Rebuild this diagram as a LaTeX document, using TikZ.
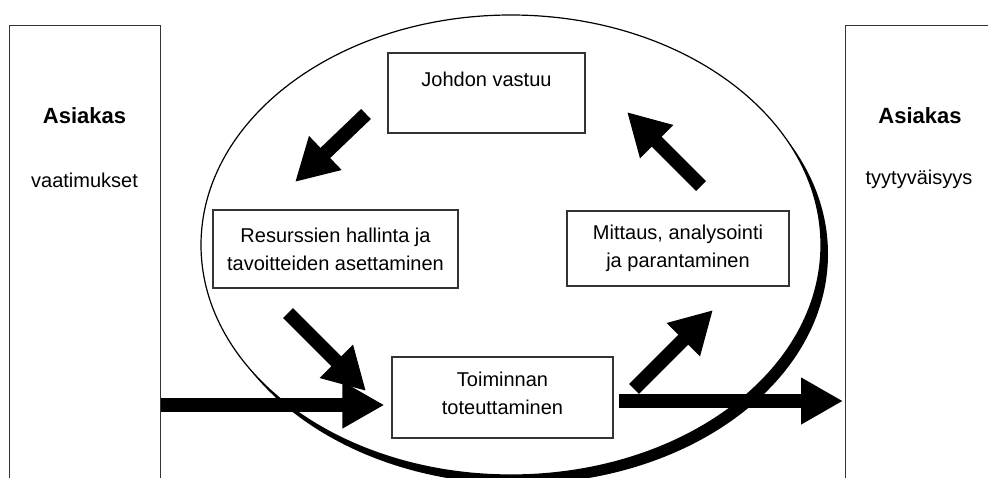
\documentclass[tikz,border=0pt]{standalone}
\usepackage{fontspec}
\setmainfont{Liberation Sans}
\usetikzlibrary{arrows.meta}
\usetikzlibrary{calc}
\usetikzlibrary{positioning}

\tikzset{
  box/.style={draw=black!80, line width=1.3pt, fill=white, align=center,
    inner sep=0pt, font=\fontsize{20}{28}\selectfont},
  sidetext/.style={anchor=base, inner sep=0pt, font=\fontsize{20}{24}\selectfont},
  sidehead/.style={anchor=base, inner sep=0pt, font=\fontsize{22}{26}\selectfont\bfseries},
  bigarrow/.style={line width=14pt, -{Triangle[length=42pt,width=44pt]}},
}

\begin{document}
\begin{tikzpicture}[x=1pt,y=-1pt]
    \useasboundingbox (0,0) rectangle (988,477);
    \clip (0,0) rectangle (988,477);
    % the ellipse and its shadow
    \fill[black] (518,254) ellipse [x radius=310, y radius=230];
    \draw[fill=white, line width=1.2pt] (511,245) ellipse [x radius=310, y radius=230];
    % customer boxes
    \node[box, minimum width=151, minimum height=480, anchor=north west] (custin) at (9,25) {};
    \node[box, minimum width=151, minimum height=480, anchor=north west] (custout) at (845,25) {};
    \node[sidehead] (asiakasin) at (84.5,123) {Asiakas};
    \node[sidetext] (vaatimukset) at (84.5,187) {vaatimukset};
    \node[sidehead] (asiakasout) at (920,123) {Asiakas};
    \node[sidetext] (tyytyvaisyys) at (919,184) {tyytyväisyys};
    % process boxes
    \node[box, minimum width=197, minimum height=80] (johto) at (486.5,93) {Johdon vastuu\\[0pt]\mbox{}};
    \node[box, minimum width=245, minimum height=78] (resurssit) at (335.5,249) {Resurssien hallinta ja\\tavoitteiden asettaminen};
    \node[box, minimum width=222, minimum height=75] (mittaus) at (678,248.5) {Mittaus, analysointi\\ja parantaminen};
    \node[box, minimum width=221, minimum height=81] (toiminta) at (502.5,397.5) {Toiminnan\\toteuttaminen\\[-20pt]\mbox{}};
    % arrow ends
    \coordinate (a1s) at (366,114);
    \coordinate (a1e) at (295,182);
    \coordinate (a2s) at (288,313);
    \coordinate (a2e) at (366,391);
    \coordinate (a3s) at (634,389);
    \coordinate (a3e) at (713,310);
    \coordinate (a4s) at (701,186);
    \coordinate (a4e) at (627,112);
    % arrows
    \draw[bigarrow] (a1s) -- (a1e);
    \draw[bigarrow] (a2s) -- (a2e);
    \draw[bigarrow] (a3s) -- (a3e);
    \draw[bigarrow] (a4s) -- (a4e);
    \draw[bigarrow, shorten >=7pt] (custin.east |- 0,405) -- ($(toiminta.west)+(0,7.5)$);
    \draw[bigarrow, shorten >=2pt] ($(toiminta.east)+(5,3.5)$) -- (custout.west |- 0,401);
\end{tikzpicture}
\end{document}
